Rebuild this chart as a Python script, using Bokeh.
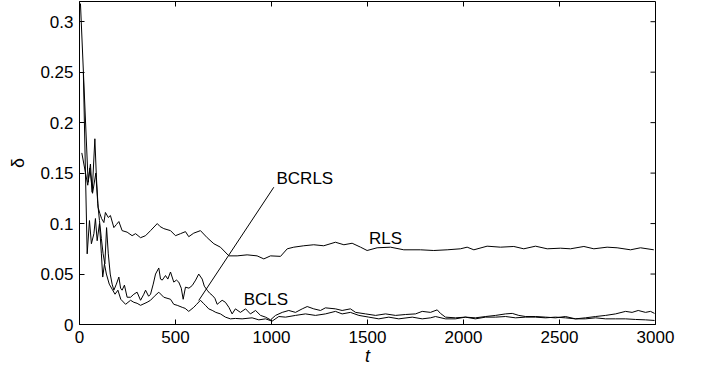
import math
from bokeh.plotting import figure
from bokeh.models import FixedTicker, Range1d, Label, Arrow
from bokeh.embed import file_html
from bokeh.resources import INLINE

# ---------------- data ----------------
rls_pts = [(5, 0.318), (45, 0.141), (57, 0.159), (66, 0.131), (80, 0.184), (88, 0.146),
           (97, 0.116), (106, 0.110), (115, 0.105), (127, 0.101), (135, 0.111), (150, 0.106),
           (161, 0.108), (179, 0.096), (192, 0.099), (205, 0.102), (222, 0.093), (248, 0.0915),
           (274, 0.088), (292, 0.090), (318, 0.086), (344, 0.088), (370, 0.093), (405, 0.100),
           (420, 0.097), (439, 0.095), (474, 0.093), (500, 0.088), (526, 0.090), (552, 0.092),
           (569, 0.087), (595, 0.0905), (630, 0.093), (665, 0.086), (700, 0.080), (734, 0.0766),
           (778, 0.068), (821, 0.068), (873, 0.069), (925, 0.068), (960, 0.065), (995, 0.068),
           (1047, 0.0675), (1082, 0.075), (1116, 0.0766), (1168, 0.078), (1220, 0.079),
           (1272, 0.078), (1333, 0.0815), (1377, 0.079), (1420, 0.0805), (1464, 0.0766),
           (1498, 0.0733), (1550, 0.076), (1620, 0.0766), (1689, 0.074), (1776, 0.074),
           (1845, 0.0733), (1915, 0.074), (1984, 0.075), (2019, 0.0766), (2054, 0.074),
           (2123, 0.0776), (2193, 0.0766), (2262, 0.0773), (2314, 0.075), (2375, 0.0776),
           (2436, 0.075), (2505, 0.0756), (2557, 0.075), (2627, 0.0773), (2679, 0.075),
           (2748, 0.0766), (2800, 0.076), (2870, 0.074), (2922, 0.076), (2991, 0.074)]

bcls_pts = [(12, 0.17), (43, 0.138), (54, 0.155), (68, 0.13), (85, 0.15), (95, 0.12),
            (104, 0.103), (114, 0.085), (123, 0.07), (132, 0.06), (141, 0.096), (150, 0.07),
            (160, 0.05), (170, 0.04), (179, 0.034), (192, 0.04), (205, 0.047), (214, 0.036),
            (222, 0.034), (234, 0.039), (248, 0.027), (266, 0.027), (283, 0.03), (300, 0.032),
            (318, 0.024), (335, 0.03), (344, 0.034), (360, 0.028), (370, 0.030), (384, 0.04),
            (396, 0.050), (413, 0.056), (422, 0.045), (431, 0.044), (448, 0.0485), (460, 0.045),
            (474, 0.052), (491, 0.042), (505, 0.044), (517, 0.042), (530, 0.036), (540, 0.025),
            (552, 0.037), (570, 0.036), (587, 0.0386), (605, 0.044), (621, 0.050), (639, 0.045),
            (650, 0.038), (665, 0.034), (678, 0.031), (691, 0.029), (705, 0.026), (717, 0.020),
            (730, 0.022), (743, 0.024), (760, 0.022), (778, 0.017), (795, 0.0105), (812, 0.0155),
            (838, 0.012), (865, 0.0155), (890, 0.0105), (917, 0.0139), (943, 0.009), (969, 0.0073),
            (995, 0.0046), (1021, 0.009), (1056, 0.012), (1090, 0.0139), (1125, 0.012),
            (1160, 0.0155), (1186, 0.0178), (1220, 0.0155), (1255, 0.0139), (1281, 0.0165),
            (1333, 0.0155), (1368, 0.0139), (1411, 0.0155), (1438, 0.012), (1490, 0.0105),
            (1542, 0.009), (1594, 0.0105), (1646, 0.009), (1698, 0.0099), (1750, 0.0105),
            (1785, 0.013), (1828, 0.012), (1863, 0.0145), (1880, 0.011), (1906, 0.0073),
            (1958, 0.0066), (2010, 0.0073), (2062, 0.0066), (2115, 0.0079), (2167, 0.009),
            (2219, 0.0105), (2254, 0.011), (2288, 0.009), (2323, 0.0079), (2375, 0.0079),
            (2427, 0.0073), (2479, 0.0066), (2531, 0.0079), (2583, 0.0056), (2635, 0.0066),
            (2688, 0.0079), (2740, 0.009), (2792, 0.0105), (2844, 0.013), (2878, 0.012),
            (2910, 0.0139), (2948, 0.012), (2974, 0.013), (2995, 0.011)]

bcrls_pts = [(20, 0.25), (40, 0.07), (52, 0.103), (62, 0.08), (75, 0.09), (83, 0.105),
             (92, 0.083), (104, 0.1), (114, 0.07), (121, 0.047), (130, 0.06), (140, 0.05),
             (155, 0.04), (170, 0.035), (185, 0.03), (200, 0.034), (215, 0.025), (240, 0.020),
             (266, 0.024), (283, 0.022), (300, 0.021), (318, 0.019), (352, 0.022), (370, 0.024),
             (390, 0.028), (413, 0.032), (439, 0.027), (474, 0.025), (491, 0.020), (509, 0.019),
             (535, 0.017), (550, 0.016), (569, 0.013), (595, 0.017), (610, 0.02), (630, 0.024),
             (645, 0.021), (656, 0.019), (673, 0.0155), (691, 0.014), (710, 0.012), (734, 0.0105),
             (760, 0.0073), (786, 0.0056), (812, 0.006), (847, 0.0056), (899, 0.0066),
             (934, 0.0046), (969, 0.0056), (1003, 0.0033), (1038, 0.0079), (1073, 0.0073),
             (1125, 0.009), (1177, 0.0105), (1229, 0.009), (1281, 0.0105), (1333, 0.013),
             (1368, 0.0105), (1411, 0.012), (1455, 0.009), (1507, 0.0073), (1559, 0.0056),
             (1611, 0.0073), (1663, 0.0056), (1733, 0.0073), (1785, 0.0056), (1828, 0.0066),
             (1854, 0.0079), (1906, 0.0056), (1958, 0.0056), (2010, 0.0073), (2062, 0.0056),
             (2115, 0.0073), (2167, 0.0073), (2219, 0.0079), (2271, 0.0066), (2323, 0.0073),
             (2375, 0.0073), (2427, 0.0066), (2479, 0.0073), (2531, 0.0066), (2583, 0.0056),
             (2635, 0.0056), (2688, 0.0066), (2740, 0.0056), (2792, 0.0056), (2844, 0.0056),
             (2896, 0.005), (2948, 0.0046), (2995, 0.004)]

x_ticks = [0, 500, 1000, 1500, 2000, 2500, 3000]
x_tick_labels = ["0", "500", "1000", "1500", "2000", "2500", "3000"]
y_ticks = [0, 0.05, 0.1, 0.15, 0.2, 0.25, 0.3]
y_tick_labels = ["0", "0.05", "0.1", "0.15", "0.2", "0.25", "0.3"]
x_limits = (0, 3000)
y_limits = (0, 0.32)

# annotations (data coordinates)
label_rls = ("RLS", 1594, 0.0856)
label_bcls = ("BCLS", 971, 0.0252)
label_bcrls = ("BCRLS", 1026, 0.1445)
leader_from = (1012, 0.136)
leader_to = (621, 0.0238)

FONT = "Liberation Sans"

p = figure(width=700, height=370, output_backend="svg", toolbar_location=None,
           x_range=Range1d(*x_limits), y_range=Range1d(*y_limits),
           min_border_left=79, min_border_right=45, min_border_top=1, min_border_bottom=46)
p.background_fill_color = "white"
p.border_fill_color = "white"
p.outline_line_color = "black"
p.outline_line_width = 1
p.xgrid.visible = False
p.ygrid.visible = False

for pts in (rls_pts, bcls_pts, bcrls_pts):
    xs = [a for a, b in pts]
    ys = [b for a, b in pts]
    p.line(xs, ys, line_color="black", line_width=1)


def style_axis(ax, ticks, labels):
    ax.ticker = FixedTicker(ticks=ticks)
    ax.major_label_overrides = {t: l for t, l in zip(ticks, labels)}
    ax.minor_tick_line_color = None
    ax.major_tick_in = 5
    ax.major_tick_out = 0
    ax.major_tick_line_color = "black"
    ax.axis_line_color = "black"
    ax.major_label_text_font = FONT
    ax.major_label_text_font_size = "17px"
    ax.major_label_text_color = "black"
    ax.major_label_standoff = 6
    ax.axis_label_text_font = FONT
    ax.axis_label_text_color = "black"


xa = p.xaxis[0]
style_axis(xa, x_ticks, x_tick_labels)
xa.axis_label = "t"
xa.axis_label_text_font_style = "italic"
xa.axis_label_text_font_size = "18px"
xa.axis_label_standoff = 0

ya = p.yaxis[0]
style_axis(ya, y_ticks, y_tick_labels)
ya.axis_label = "δ"
ya.axis_label_text_font_style = "normal"
ya.axis_label_text_font_size = "18px"
ya.axis_label_standoff = 9

# inward tick marks on the top and right edges of the box
p.ray(x=x_ticks, y=[y_limits[1]] * len(x_ticks), length=5, length_units="screen",
      angle=-math.pi / 2, line_color="black", line_width=1)
p.ray(x=[x_limits[1]] * len(y_ticks), y=y_ticks, length=5, length_units="screen",
      angle=math.pi, line_color="black", line_width=1)

for txt, xx, yy in (label_rls, label_bcls):
    p.add_layout(Label(x=xx, y=yy, text=txt, text_font=FONT, text_font_size="17px",
                       text_align="center", text_baseline="middle", text_color="black"))
p.add_layout(Label(x=label_bcrls[1], y=label_bcrls[2], text=label_bcrls[0], text_font=FONT,
                   text_font_size="17px", text_align="left", text_baseline="middle",
                   text_color="black"))
p.add_layout(Arrow(x_start=leader_from[0], y_start=leader_from[1], x_end=leader_to[0],
                   y_end=leader_to[1], end=None, line_color="black", line_width=1))

open("out.html", "w").write(file_html(p, INLINE))
